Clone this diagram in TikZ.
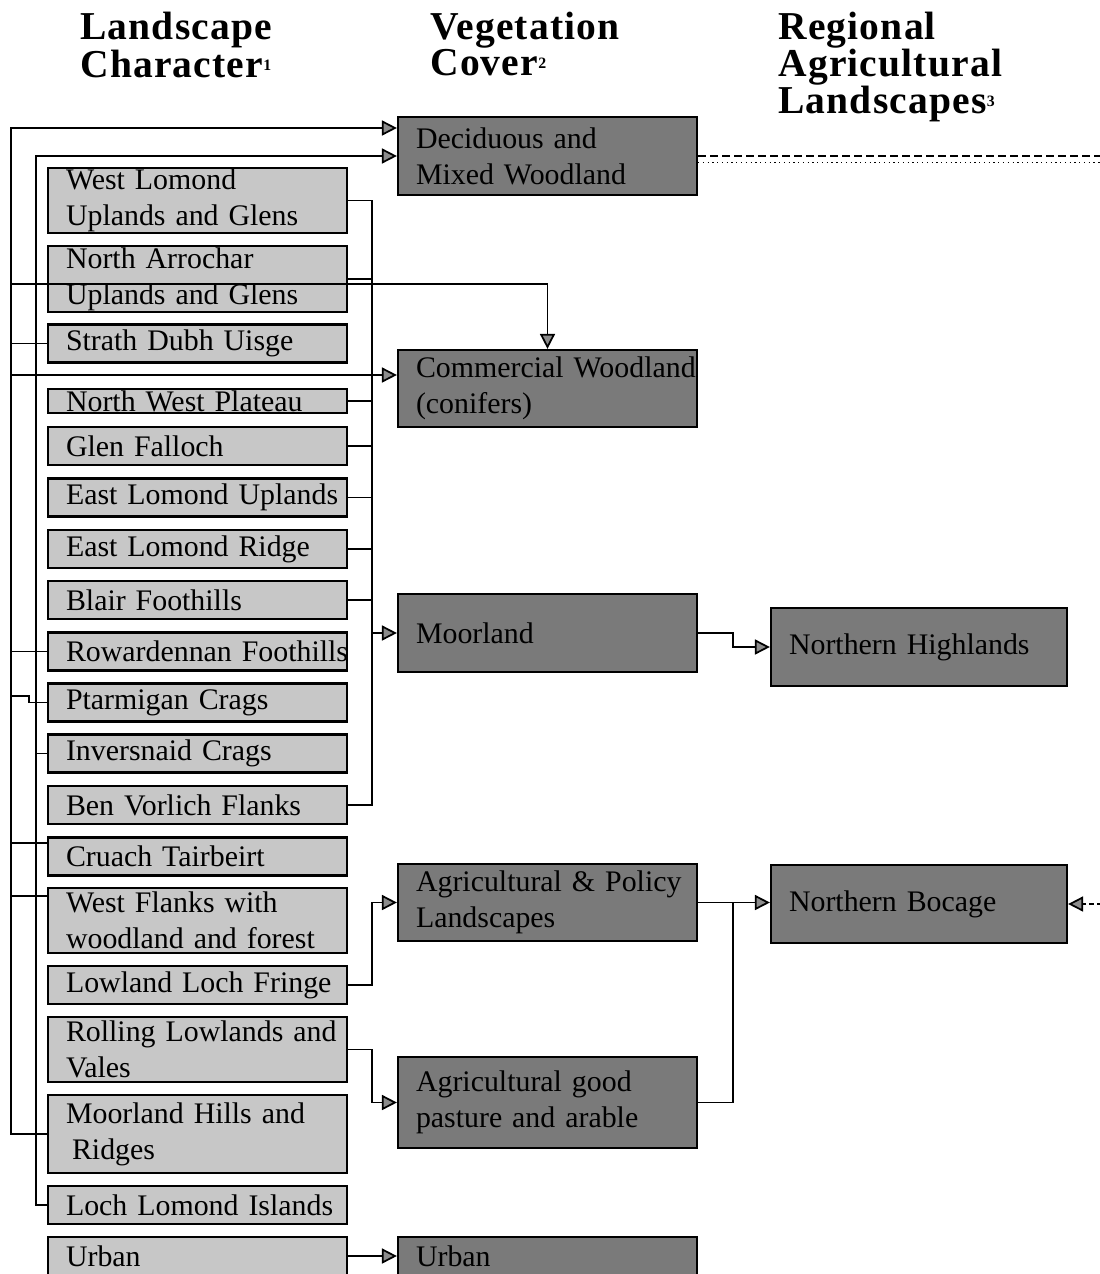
\documentclass[tikz,border=0pt]{standalone}
\usepackage{fontspec}
\setmainfont{Liberation Serif}
\newfontfamily\headfam[LetterSpace=3]{Liberation Serif}
\usetikzlibrary{arrows.meta}

\newcommand\supnum[1]{\raisebox{4pt}{\fontsize{9}{9}\selectfont #1}}
\newcommand\headfont[1]{\headfam\fontsize{22.5}{#1}\selectfont\bfseries}
\hyphenpenalty=10000

\begin{document}
\begin{tikzpicture}[x=0.02cm, y=-0.02cm]


        % Setup the styles for the boxes and links
        \tikzset{char style/.style={draw,
                                    line width=0.45mm,
                                    fill=black!22,
                                    text width=5.26cm,
                                    inner xsep=0.36cm,
                                    inner ysep=0.02cm,
                                    align=left,
                                    minimum height=0.76cm,
                                    font=\fontsize{17}{20.4}\selectfont},
                 cover style/.style={char style, fill=black!52},
                 region style/.style={char style, fill=black!52, text width=5.2cm},
                 head style/.style={anchor=north west, inner sep=0pt, align=left},
                 link style/.style={line width=0.35mm},
                 arrow style/.style={link style, -{Triangle[length=0.3cm, width=0.3cm, fill=black!45]}}}

\useasboundingbox (0,0) rectangle (1099,1274);

% Add the headings
\node[head style, font={\headfont{20.4}}] at (80,12) (hchar) {Landscape\\Character\supnum{1}};
\node[head style, font={\headfont{20.4}}] at (430,12) (hcover) {Vegetation\\Cover\supnum{2}};
\node[head style, font={\headfont{21}}] at (778,12) (hregion) {Regional\\Agricultural\\Landscapes\supnum{3}};

% Add the landscape character boxes
\node[char style, minimum height=1.30cm] at (197.5,200.5) (wl) {West~Lomond\\Uplands~and~Glens};
\node[char style, minimum height=1.32cm] at (197.5,279) (na) {North~Arrochar\\Uplands~and~Glens};
\node[char style] at (197.5,343.5) (sdu) {Strath~Dubh~Uisge};
\node[char style, minimum height=0.48cm] at (197.5,401) (nwp) {North~West~Plateau};
\node[char style] at (197.5,446) (gf) {Glen~Falloch};
\node[char style] at (197.5,497.5) (elu) {East~Lomond~Uplands};
\node[char style] at (197.5,549) (elr) {East~Lomond~Ridge};
\node[char style] at (197.5,600) (bf) {Blair~Foothills};
\node[char style] at (197.5,651.5) (rf) {Rowardennan~Foothills};
\node[char style] at (197.5,702.5) (pc) {Ptarmigan~Crags};
\node[char style] at (197.5,753.5) (ic) {Inversnaid~Crags};
\node[char style] at (197.5,805) (bvf) {Ben~Vorlich~Flanks};
\node[char style] at (197.5,856.5) (ct) {Cruach~Tairbeirt};
\node[char style, minimum height=1.30cm] at (197.5,920.5) (wf) {West~Flanks~with\\woodland~and~forest};
\node[char style] at (197.5,985) (llf) {Lowland~Loch~Fringe};
\node[char style, minimum height=1.30cm] at (197.5,1049.5) (rlv) {Rolling~Lowlands~and\\Vales};
\node[char style, minimum height=1.56cm] at (197.5,1134) (mhr) {Moorland~Hills~and\\\hspace{0.12cm}Ridges};
\node[char style] at (197.5,1205) (lli) {Loch~Lomond~Islands};
\node[char style] at (197.5,1256) (urb) {Urban};

% Add the vegetation cover boxes
\node[cover style, minimum height=1.56cm] at (547.5,156) (dec) {Deciduous~and\\Mixed~Woodland};
\node[cover style, minimum height=1.54cm] at (547.5,388.5) (com) {Commercial~Woodland\\(conifers)};
\node[cover style, minimum height=1.56cm] at (547.5,633) (moor) {Moorland};
\node[cover style, minimum height=1.54cm] at (547.5,902.5) (ap) {Agricultural~\&~Policy\\Landscapes};
\node[cover style, minimum height=1.82cm] at (547.5,1102.5) (agp) {Agricultural~good\\pasture~and~arable};
\node[cover style] at (547.5,1256) (urbv) {Urban};

% Add the regional boxes
\node[region style, minimum height=1.56cm] at (919,647) (nh) {Northern~Highlands};
\node[region style, minimum height=1.56cm] at (919,904) (nb) {Northern~Bocage};

% Spines and joins
\coordinate (outer) at (11,0);
\coordinate (inner) at (36,0);
\coordinate (spine) at (372,0);
\coordinate (junc) at (733,0);
\coordinate (edge) at (1110,0);
\coordinate (crossA) at (11,284);
\coordinate (pcA) at (11,696);
\coordinate (decA) at ([yshift=0.56cm]dec.west);
\coordinate (decC) at ([yshift=-0.13cm]dec.east);
\coordinate (comA) at ([yshift=0.27cm]com.west);
\coordinate (ctA) at ([yshift=0.27cm]ct.west);
\coordinate (wfA) at ([yshift=0.49cm]wf.west);

	 \draw[arrow style] (mhr.west) -- (mhr.west -| outer) -- (decA -| outer) -- (decA);
	 \draw[arrow style] (lli.west) -- (lli.west -| inner) -- (dec.west -| inner) -- (dec.west);
	 \draw[arrow style] (crossA) -| (com.north);
	 \draw[arrow style] (comA -| outer) -- (comA);
	 \foreach \n in {sdu, rf}
		\draw[link style] (\n.west) -- (\n.west -| outer);
	 \draw[link style] (ctA) -- (ctA -| outer);
	 \draw[link style] (wfA) -- (wfA -| outer);
	 \draw[link style] (pcA) -| ([xshift=-0.36cm]pc.west) -- (pc.west);
	 \draw[link style] (ic.west) -- (ic.west -| inner);

	 \draw[link style] (wl.east) -- (wl.east -| spine) -- (bvf.east -| spine) -- (bvf.east);
	 \foreach \n in {na, nwp, gf, elu, elr, bf}
		\draw[link style] (\n.east) -- (\n.east -| spine);
	 \draw[arrow style] (moor.west -| spine) -- (moor.west);
	 \draw[arrow style] (llf.east) -- (llf.east -| spine) |- (ap.west);
	 \draw[arrow style] (rlv.east) -- (rlv.east -| spine) |- (agp.west);
	 \draw[arrow style] (urb.east) -- (urbv.west);

	 \draw[arrow style] (moor.east) -- (moor.east -| junc) |- (nh.west);
	 \draw[arrow style] (ap.east) -- (ap.east -| nb.west);
	 \draw[link style] (agp.east) -| (ap.east -| junc);

	 \draw[line width=0.5mm, dash pattern=on 0.16cm off 0.08cm] (dec.east) -- (dec.east -| edge);
	 \draw[line width=0.25mm, dotted] (decC) -- (decC -| edge);
	 \draw[arrow style, dash pattern=on 0.1cm off 0.06cm] (nb.east -| edge) -- (nb.east);
\end{tikzpicture}
\end{document}
